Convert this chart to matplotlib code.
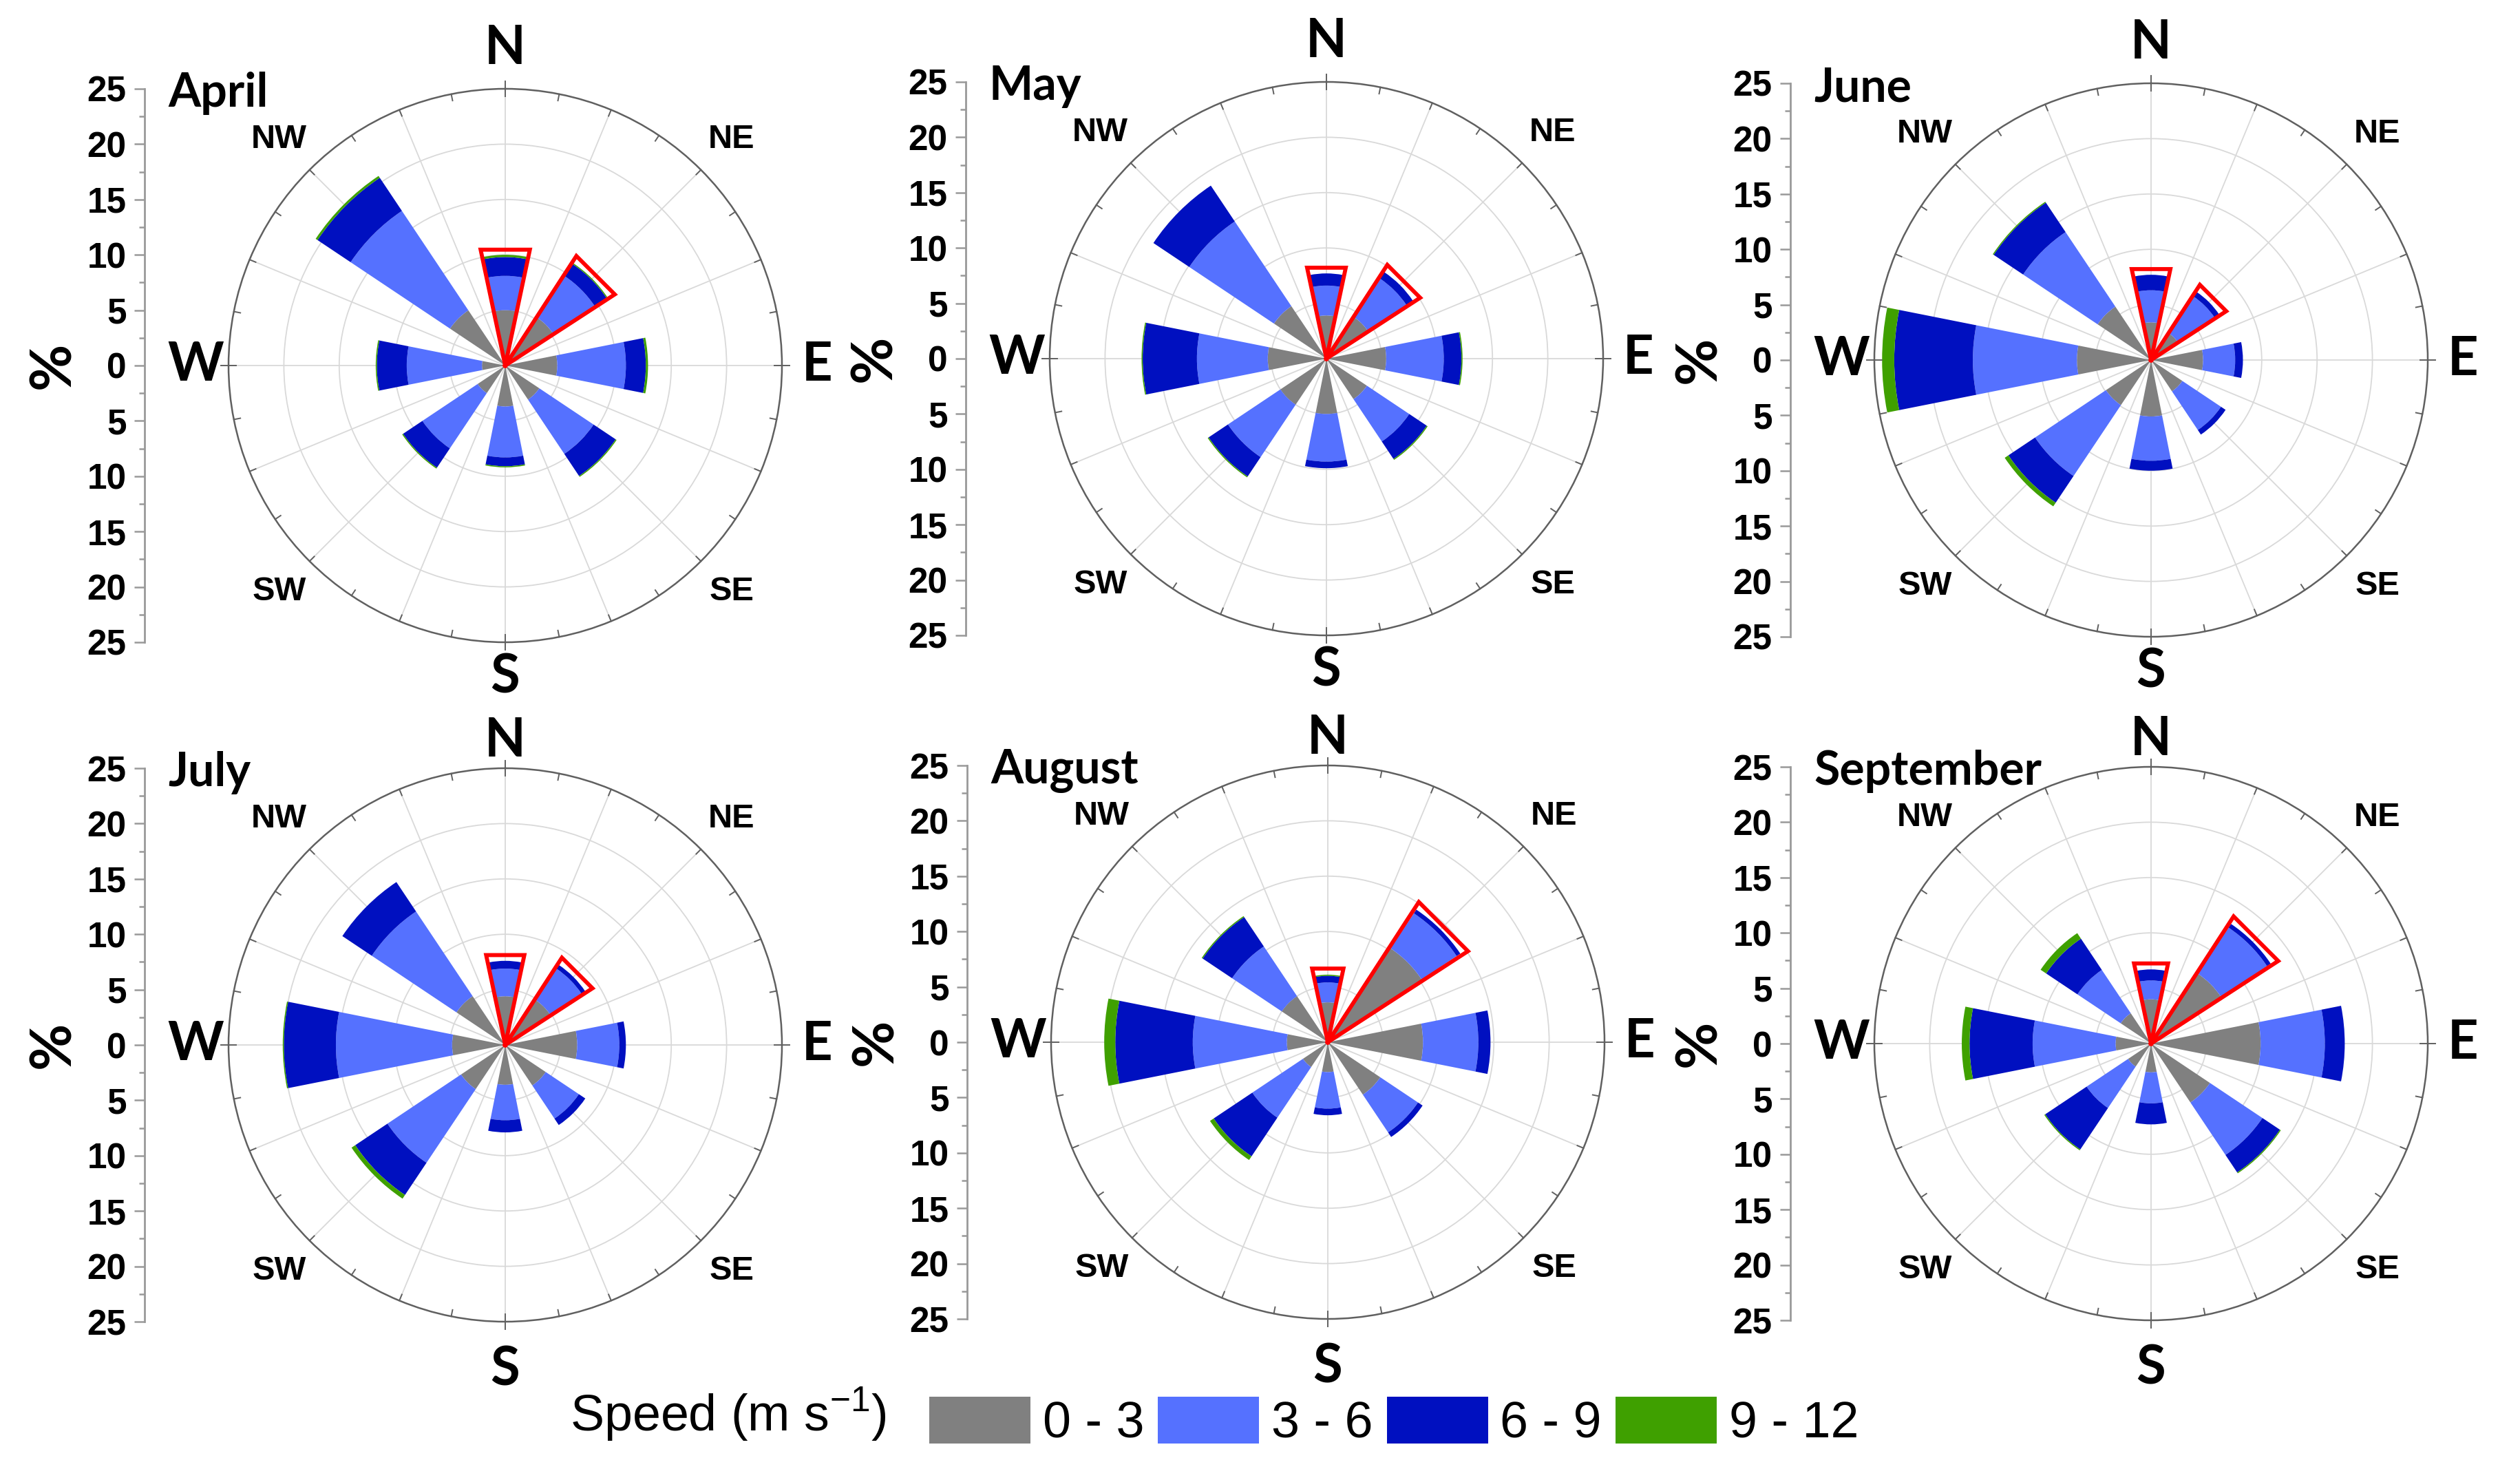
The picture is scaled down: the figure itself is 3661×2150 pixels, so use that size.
import numpy as np
import matplotlib
matplotlib.use('Agg')
import matplotlib.pyplot as plt
from matplotlib.patches import Patch
from matplotlib.ticker import MultipleLocator, FuncFormatter

plt.rcParams['font.family'] = ['Liberation Sans', 'DejaVu Sans']
plt.rcParams['mathtext.fontset'] = 'custom'
plt.rcParams['mathtext.rm'] = 'Liberation Sans'

# directions of the bars (compass degrees)
directions = [0, 45, 90, 135, 180, 225, 270, 315]
speed_bins = ['0 - 3', '3 - 6', '6 - 9', '9 - 12']
bin_colors = ['#808080', '#5571ff', '#0010c0', '#3fa000']

# cumulative frequency (%) at the top of each speed class, N NE E SE S SW W NW
april_c = [[5.0, 5.2, 4.7, 3.7, 3.7, 3.0, 2.1, 6.0],
           [8.1, 9.7, 10.9, 9.6, 8.3, 9.0, 8.9, 16.8],
           [9.8, 11.0, 12.7, 12.0, 9.1, 11.1, 11.6, 20.4],
           [10.0, 11.1, 12.9, 12.1, 9.2, 11.2, 11.7, 20.6]]
may_c = [[3.9, 4.5, 5.4, 4.4, 5.0, 5.0, 5.3, 5.7],
         [6.6, 8.7, 10.6, 9.0, 9.3, 10.7, 11.7, 14.9],
         [7.7, 9.4, 12.2, 10.9, 9.9, 12.8, 16.6, 18.8],
         [7.7, 9.4, 12.3, 11.0, 9.9, 12.9, 16.7, 18.8]]
june_c = [[3.4, 2.9, 4.7, 3.4, 5.1, 4.9, 6.7, 5.8],
          [6.3, 6.9, 7.6, 7.6, 9.1, 12.6, 16.1, 13.9],
          [7.7, 7.4, 8.3, 8.1, 10.0, 15.5, 23.2, 17.1],
          [7.7, 7.4, 8.3, 8.1, 10.0, 15.9, 24.3, 17.2]]
july_c = [[4.4, 4.9, 6.5, 4.4, 3.6, 4.8, 4.8, 5.3],
          [6.9, 8.3, 10.3, 8.0, 6.8, 12.8, 15.3, 14.5],
          [7.6, 8.7, 10.9, 8.7, 7.9, 16.3, 20.0, 17.7],
          [7.6, 8.7, 10.9, 8.7, 7.9, 16.7, 20.1, 17.7]]
august_c = [[3.6, 10.2, 8.6, 5.7, 2.7, 2.7, 3.7, 5.0],
            [5.4, 14.0, 13.6, 9.8, 6.0, 8.2, 12.2, 10.4],
            [6.0, 14.4, 14.7, 10.3, 6.6, 12.4, 19.2, 13.6],
            [6.1, 14.4, 14.7, 10.3, 6.6, 12.8, 20.2, 13.7]]
september_c = [[4.0, 7.6, 9.9, 6.4, 2.6, 2.5, 3.2, 3.3],
               [5.7, 12.6, 15.7, 12.1, 5.4, 7.0, 10.7, 8.0],
               [6.7, 13.0, 17.5, 14.0, 7.3, 11.5, 16.4, 11.4],
               [6.7, 13.0, 17.5, 14.1, 7.3, 11.6, 17.1, 12.0]]

months = ['April', 'May', 'June', 'July', 'August', 'September']
month_data = [april_c, may_c, june_c, july_c, august_c, september_c]
# sectors outlined in red
highlight = [0, 45]

W, H = 3661, 2150
fig = plt.figure(figsize=(W / 100, H / 100), dpi=100)

def fx(px):
    return px / W

def fy(py):
    return 1 - py / H

centers = [(734, 531), (1927, 521), (3125, 523),
           (734, 1518), (1929, 1514), (3125, 1516)]
R = 402  # pixel radius of the 25 % ring

theta = np.deg2rad(directions)
width = np.deg2rad(22.5)
bold_font = ['Lato', 'DejaVu Sans']

for n, (name, cum, (cx, cy)) in enumerate(zip(months, month_data, centers)):
    ax = fig.add_axes([fx(cx - R), fy(cy + R), 2 * R / W, 2 * R / H], projection='polar')
    ax.set_theta_zero_location('N')
    ax.set_theta_direction(-1)
    ax.set_ylim(0, 25)
    ax.set_xticks(np.deg2rad(np.arange(0, 360, 22.5)))
    ax.set_xticklabels([])
    ax.set_yticks([5, 10, 15, 20])
    ax.set_yticklabels([])
    ax.tick_params(length=0)
    ax.grid(True, color='#d9d9d9', lw=1.3)
    ax.set_axisbelow(True)
    ax.spines['polar'].set_color('#606060')
    ax.spines['polar'].set_linewidth(1.8)

    cum = np.array(cum)
    bottom = np.zeros(len(directions))
    for k in range(len(speed_bins)):
        ax.bar(theta, cum[k] - bottom, bottom=bottom, width=width,
               color=bin_colors[k], edgecolor='none', linewidth=0, zorder=2)
        bottom = cum[k]

    # red outline around the N and NE sectors
    for d in highlight:
        i = directions.index(d)
        top = cum[-1][i] + 0.7
        half = np.deg2rad(12)
        t0 = np.deg2rad(d)
        ax.plot([t0, t0 - half, t0 + half, t0], [0, top, top, 0],
                color='#ff0000', lw=4.2, solid_joinstyle='miter', zorder=4)

    # small ticks on the outer ring
    for a in np.arange(0, 360, 11.25):
        ta = np.deg2rad(a)
        if a % 90 == 0:
            ax.plot([ta, ta], [24.3, 25.7], color='#606060', lw=1.4, clip_on=False, zorder=3)
        else:
            ax.plot([ta, ta], [24.4, 25], color='#606060', lw=1.4, clip_on=False, zorder=3)

    shift = 1.2 if n >= 3 else 0.0
    for lbl, a, r in [('N', 0, 28.6 - shift), ('E', 90, 28.2), ('S', 180, 28.2 + shift),
                      ('W', 270, 28.0)]:
        ax.text(np.deg2rad(a), r, lbl, ha='center', va='center', fontsize=56,
                fontweight='bold', family=bold_font)
    for lbl, a in [('NE', 45), ('SE', 135), ('SW', 225), ('NW', 315)]:
        ax.text(np.deg2rad(a), 28.9, lbl, ha='center', va='center', fontsize=35,
                fontweight='bold')

    # radial scale drawn on the left
    lax = fig.add_axes([fx(cx - 524), fy(cy + R), 1 / W, 2 * R / H])
    lax.set_facecolor('none')
    lax.set_ylim(-25, 25)
    lax.set_xticks([])
    for s in ['top', 'right', 'bottom']:
        lax.spines[s].set_visible(False)
    lax.spines['left'].set_color('#999999')
    lax.spines['left'].set_linewidth(2)
    lax.yaxis.set_major_locator(MultipleLocator(5))
    lax.yaxis.set_minor_locator(MultipleLocator(2.5))
    lax.yaxis.set_major_formatter(FuncFormatter(lambda v, p: '%d' % abs(round(v))))
    lax.tick_params(axis='y', which='major', length=11, width=1.8, color='#999999',
                    labelsize=37, pad=8)
    lax.tick_params(axis='y', which='minor', length=6, width=1.8, color='#999999')
    for t in lax.get_yticklabels():
        t.set_fontweight('bold')

    fig.text(fx(cx - 490), fy(cy - 376), name, ha='left', va='baseline', fontsize=49,
             fontweight='bold', family=bold_font)
    fig.text(fx(cx - 656), fy(cy), '%', ha='center', va='center', rotation=90,
             fontsize=60, fontweight='bold', family=bold_font)

handles = [Patch(facecolor=c, edgecolor='none') for c in bin_colors]
fig.legend(handles, speed_bins, loc='center left', bbox_to_anchor=(fx(1350), fy(2066)),
           ncol=4, frameon=False, fontsize=53, handlelength=2.0, handleheight=1.04,
           handletextpad=0.24, columnspacing=0.27, borderpad=0, borderaxespad=0)
fig.text(fx(828), fy(2055), 'Speed (m s$^{\\mathrm{-1}}$)', ha='left', va='center',
         fontsize=53)

fig.savefig('out.png', dpi=100)
